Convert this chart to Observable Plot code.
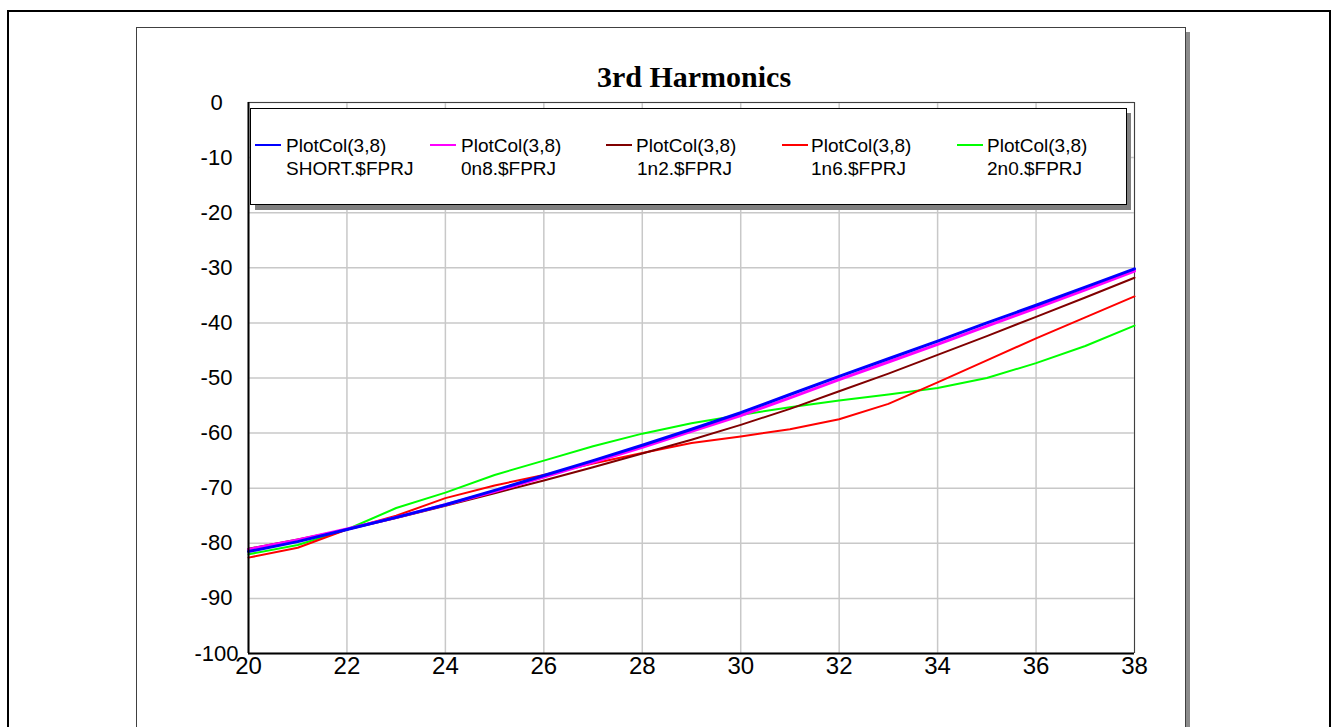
<!DOCTYPE html>
<html>
<head>
<meta charset="utf-8">
<script src="https://cdn.jsdelivr.net/npm/d3@7"></script>
<script src="https://cdn.jsdelivr.net/npm/@observablehq/plot@0.6"></script>
<style>
  html, body { margin: 0; padding: 0; background: #fff; }
  #chart { width: 1333px; height: 727px; overflow: hidden; }
</style>
</head>
<body>
<div id="chart"></div>
<script>
// ---- data ----
const freqs = [20, 21, 22, 23, 24, 25, 26, 27, 28, 29, 30, 31, 32, 33, 34, 35, 36, 37, 38];
const shortVals = [-81.5, -79.7, -77.5, -75.3, -73.0, -70.4, -67.7, -65.0, -62.2, -59.3, -56.3, -53.0, -49.7, -46.5, -43.3, -40.0, -36.8, -33.5, -30.2];
const n08Vals   = [-81.1, -79.4, -77.4, -75.3, -73.0, -70.6, -68.0, -65.3, -62.6, -59.7, -56.8, -53.6, -50.3, -47.1, -43.9, -40.6, -37.3, -34.0, -30.6];
const n12Vals   = [-81.0, -79.3, -77.5, -75.4, -73.2, -70.9, -68.6, -66.2, -63.7, -61.2, -58.5, -55.6, -52.4, -49.2, -45.8, -42.4, -38.9, -35.4, -31.8];
const n16Vals   = [-82.6, -80.8, -77.5, -75.0, -71.8, -69.5, -67.6, -65.5, -63.6, -61.8, -60.6, -59.3, -57.5, -54.7, -50.8, -46.8, -42.8, -39.0, -35.2];
const n20Vals   = [-82.0, -80.3, -77.5, -73.6, -70.8, -67.6, -65.0, -62.4, -60.1, -58.2, -56.7, -55.3, -54.1, -53.0, -51.8, -50.0, -47.3, -44.2, -40.5];

const seriesNames = ["SHORT.$FPRJ", "0n8.$FPRJ", "1n2.$FPRJ", "1n6.$FPRJ", "2n0.$FPRJ"];
const seriesColors = ["#0000ff", "#ff00ff", "#800000", "#ff0000", "#00ff00"];
const seriesWidths = [3, 3, 2, 2, 2];
const legendHead = "PlotCol(3,8)";
const titleText = "3rd Harmonics";
const xTicks = [20, 22, 24, 26, 28, 30, 32, 34, 36, 38];
const yTicks = [0, -10, -20, -30, -40, -50, -60, -70, -80, -90, -100];

const allVals = [shortVals, n08Vals, n12Vals, n16Vals, n20Vals];
const rows = [];
allVals.forEach((vals, i) => vals.forEach((v, j) => rows.push({x: freqs[j], y: v, s: seriesNames[i]})));

// draw order: green, red, dark red, magenta, blue (blue on top)
const drawOrder = [4, 3, 2, 1, 0];

const W = 1333, H = 727;
const ML = 248, MT = 102, MR = W - 1134, MB = H - 653;
const FONT = "'Liberation Sans', Arial, sans-serif";

const plot = Plot.plot({
  width: W,
  height: H,
  marginLeft: ML, marginTop: MT, marginRight: MR, marginBottom: MB,
  style: {background: "transparent", fontFamily: FONT, color: "#000"},
  x: {domain: [20, 38]},
  y: {domain: [-100, 0]},
  marks: [
    Plot.gridX(xTicks, {stroke: "#c8c8c8", strokeOpacity: 1, strokeWidth: 1.5}),
    Plot.gridY(yTicks, {stroke: "#c8c8c8", strokeOpacity: 1, strokeWidth: 1.5}),
    Plot.axisX(xTicks, {tickSize: 0, tickPadding: 3, fontSize: 24, tickFormat: d => String(d), label: null}),
    Plot.axisY(yTicks, {tickSize: 0, tickPadding: 32, fontSize: 22, textAnchor: "middle", tickFormat: d => String(d), label: null}),
    Plot.ruleX([38], {stroke: "#404040", strokeWidth: 1}),
    Plot.ruleY([0], {stroke: "#404040", strokeWidth: 1}),
    ...drawOrder.map(i => Plot.line(rows.filter(r => r.s === seriesNames[i]), {
      x: "x", y: "y", stroke: seriesColors[i], strokeWidth: seriesWidths[i]
    })),
    Plot.ruleX([20], {stroke: "#000", strokeWidth: 2}),
    Plot.ruleY([-100], {stroke: "#000", strokeWidth: 2})
  ]
});

const svg = d3.select(plot);
// background decorations (inserted behind plot marks)
const bg = svg.insert("g", ":first-child");
bg.append("rect").attr("x", 0).attr("y", 0).attr("width", W).attr("height", H).attr("fill", "#fff");
bg.append("rect").attr("x", 8).attr("y", 11).attr("width", 1322).attr("height", 730)
  .attr("fill", "none").attr("stroke", "#000").attr("stroke-width", 2);
// chart box shadow
bg.append("rect").attr("x", 1186).attr("y", 32).attr("width", 4).attr("height", 700).attr("fill", "#8c8c8c");
bg.append("rect").attr("x", 136.5).attr("y", 27.5).attr("width", 1049).attr("height", 710)
  .attr("fill", "#fff").attr("stroke", "#404040").attr("stroke-width", 1);

// title
svg.append("text").attr("x", 694).attr("y", 87).attr("text-anchor", "middle")
  .attr("font-family", "'Liberation Serif', 'Times New Roman', serif").attr("font-weight", "bold")
  .attr("font-size", 30).attr("fill", "#000").text(titleText);

// legend box with shadow
const lg = svg.append("g").attr("text-anchor", "start");
lg.append("rect").attr("x", 255).attr("y", 113).attr("width", 876).attr("height", 97).attr("fill", "#808080");
lg.append("rect").attr("x", 250.5).attr("y", 108.5).attr("width", 876).attr("height", 96)
  .attr("fill", "#fff").attr("stroke", "#000").attr("stroke-width", 1);
const swatchX = [255, 430, 606, 782, 957];
const text1X = [286, 461, 636, 811, 987];
const text2X = [286, 461, 637, 811, 987];
seriesNames.forEach((name, i) => {
  const x0 = swatchX[i];
  lg.append("line").attr("x1", x0).attr("x2", x0 + 26).attr("y1", 145).attr("y2", 145)
    .attr("stroke", seriesColors[i]).attr("stroke-width", 2);
  lg.append("text").attr("x", text1X[i]).attr("y", 152).attr("text-anchor", "start")
    .attr("font-family", FONT).attr("font-size", 19).attr("fill", "#000")
    .text(legendHead);
  lg.append("text").attr("x", text2X[i]).attr("y", 175).attr("text-anchor", "start")
    .attr("font-family", FONT).attr("font-size", 19).attr("fill", "#000")
    .text(name);
});

document.getElementById("chart").appendChild(plot);
</script>
</body>
</html>
